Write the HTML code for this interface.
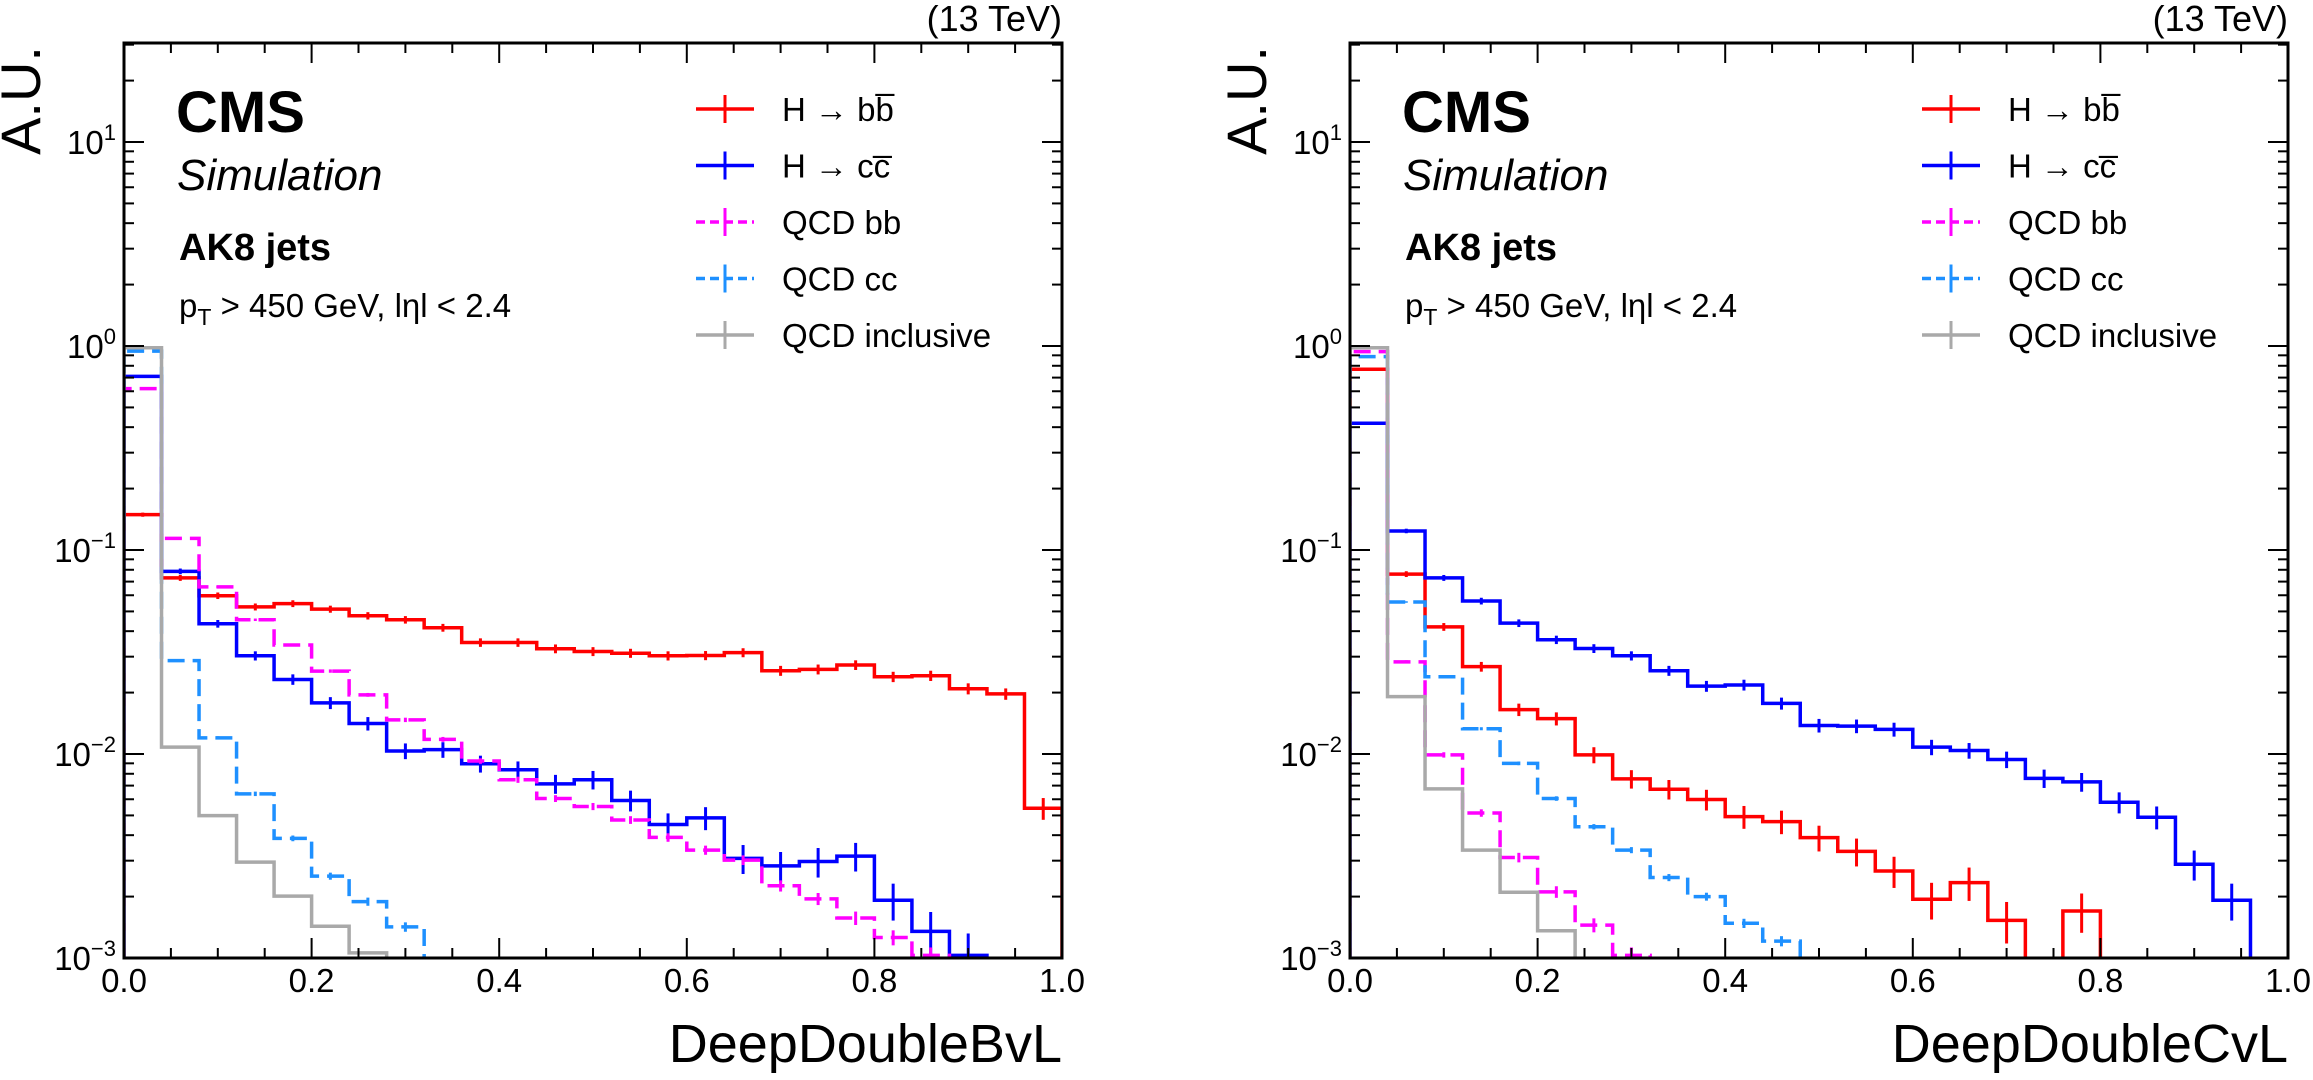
<!DOCTYPE html>
<html><head><meta charset="utf-8">
<style>
html,body{margin:0;padding:0;background:#fff;}
svg{display:block;font-family:"Liberation Sans",Arial,sans-serif;}
</style></head>
<body>
<svg id="fig" width="2313" height="1080" viewBox="0 0 2313 1080" xmlns="http://www.w3.org/2000/svg"></svg>
<script>
// ---------- data (25 bins of width 0.04 on [0,1]) ----------
const binEdgesStart = 0.0;
const binWidth = 0.04;
const xTickLabels = ["0.0","0.2","0.4","0.6","0.8","1.0"];
const xTickValues = [0,0.2,0.4,0.6,0.8,1.0];
const yTickExps = [-3,-2,-1,0,1];
const legendLabels = ["H \u2192 bb\u0305","H \u2192 cc\u0305","QCD bb","QCD cc","QCD inclusive"];

// Left panel: DeepDoubleBvL
const bvlHbb = [0.149,0.073,0.0597,0.0526,0.0546,0.0513,0.0476,0.0455,0.0416,0.0352,0.0352,0.0328,0.0318,0.0312,0.0303,0.0304,0.0314,0.0256,0.026,0.0273,0.0239,0.0242,0.0209,0.0197,0.00542];
const bvlHcc = [0.71,0.0786,0.0435,0.0303,0.0232,0.0178,0.0141,0.01035,0.0105,0.00896,0.00837,0.00714,0.00748,0.00592,0.00451,0.00486,0.00308,0.00283,0.00297,0.00316,0.00192,0.00135,0.00103,0,0];
const bvlQcdbb = [0.618,0.114,0.066,0.0455,0.0342,0.0255,0.0195,0.0147,0.0118,0.00924,0.00748,0.00605,0.00553,0.00475,0.0039,0.00338,0.00302,0.00226,0.00195,0.00157,0.00126,0.00103,0,0,0];
const bvlQcdcc = [0.944,0.0287,0.012,0.00638,0.00386,0.00252,0.00189,0.00142,0,0,0,0,0,0,0,0,0,0,0,0,0,0,0,0,0];
const bvlQcdincl = [0.98,0.0108,0.00499,0.00295,0.00201,0.00143,0.00106,0,0,0,0,0,0,0,0,0,0,0,0,0,0,0,0,0,0];

// Right panel: DeepDoubleCvL
const cvlHbb = [0.769,0.0762,0.042,0.0268,0.0165,0.0149,0.0099,0.00755,0.00672,0.00598,0.00493,0.00466,0.00389,0.00333,0.00267,0.00194,0.00234,0.00153,0,0.0017,0,0,0,0,0];
const cvlHcc = [0.418,0.124,0.073,0.0562,0.0438,0.0363,0.0329,0.0303,0.0256,0.0215,0.0218,0.0177,0.0138,0.0137,0.0132,0.0108,0.0104,0.0094,0.0076,0.0073,0.0058,0.0049,0.00288,0.00192,0];
const cvlQcdbb = [0.938,0.0283,0.0099,0.00514,0.00311,0.00211,0.00145,0.00103,0,0,0,0,0,0,0,0,0,0,0,0,0,0,0,0,0];
const cvlQcdcc = [0.887,0.0556,0.0239,0.0133,0.009,0.00605,0.0044,0.00338,0.00248,0.002,0.00148,0.00121,0,0,0,0,0,0,0,0,0,0,0,0,0];
const cvlQcdincl = [0.98,0.0191,0.00675,0.00338,0.0021,0.00136,0,0,0,0,0,0,0,0,0,0,0,0,0,0,0,0,0,0,0];

const NS = "http://www.w3.org/2000/svg";
const svg = document.getElementById("fig");
function mk(tag, attrs, parent){
  const e = document.createElementNS(NS, tag);
  for (const k in attrs) e.setAttribute(k, attrs[k]);
  (parent||svg).appendChild(e);
  return e;
}

const TOP = 43, BOT = 958, DEC = 204, Y10 = 142;
const styles = [
  {color:"#ff0000", dash:null, err:0.009},
  {color:"#0000ff", dash:null, err:0.009},
  {color:"#ff00ff", dash:"17 8", err:0.003},
  {color:"#1e90ff", dash:"17 8", err:0.002},
  {color:"#a9a9a9", dash:null, err:0}
];
const seriesNames = ["hbb","hcc","qcd-bb","qcd-cc","qcd-inclusive"];

function panel(idx, x0, x1, series, xtitle){
  const W = x1 - x0;
  const xs = v => x0 + v*W;
  const ys = v => v > 0 ? Y10 + (1 - Math.log10(v))*DEC : BOT + 40;
  const g = mk("g", {});
  
  

  const cid = "clip"+idx;
  const cp = mk("clipPath", {id:cid}, g);
  mk("rect", {x:x0, y:TOP, width:W, height:BOT-TOP}, cp);

  series.forEach((vals, si) => {
    const st = styles[si];
    let d = "M" + xs(binEdgesStart) + "," + (BOT+40);
    vals.forEach((v, i) => {
      const xa = xs(binEdgesStart + i*binWidth), xb = xs(binEdgesStart + (i+1)*binWidth);
      d += " L" + xa + "," + ys(v) + " L" + xb + "," + ys(v);
    });
    d += " L" + xs(1) + "," + (BOT+40);
    const p = mk("path", {d:d, fill:"none", stroke:st.color, "stroke-width":3.5, "clip-path":"url(#"+cid+")"}, g);
    if (st.dash) p.setAttribute("stroke-dasharray", st.dash);
    
    
    if (st.err > 0) {
      vals.forEach((v, i) => {
        if (v <= 0) return;
        const rel = st.err/Math.sqrt(v);
        const xc = xs(binEdgesStart + (i+0.5)*binWidth);
        const l = mk("line", {x1:xc, x2:xc, y1:ys(v*(1+rel)), y2:ys(Math.max(v*(1-rel),1e-6)), stroke:st.color, "stroke-width":3, "clip-path":"url(#"+cid+")"}, g);
        
        
      });
    }
  });

  const fr = mk("rect", {x:x0, y:TOP, width:W, height:BOT-TOP, fill:"none", stroke:"#000", "stroke-width":3}, g);
  
  

  for (let k=0;k<=20;k++){
    const v = k*0.05, x = xs(v), major = (k%4===0), L = major?20:10;
    mk("line",{x1:x,x2:x,y1:BOT,y2:BOT-L,stroke:"#000","stroke-width":2},g);
    mk("line",{x1:x,x2:x,y1:TOP,y2:TOP+L,stroke:"#000","stroke-width":2},g);
  }
  xTickValues.forEach((v,i)=>{
    const t = mk("text",{x:xs(v), y:992, "font-size":33, "text-anchor":"middle"}, g);
    t.textContent = xTickLabels[i];
    
    
  });
  for (let e=-3;e<=1;e++){
    for (let m=1;m<=9;m++){
      const v = m*Math.pow(10,e), y = ys(v);
      if (y < TOP-1 || y > BOT+1) continue;
      const L = m===1?20:10;
      mk("line",{x1:x0,x2:x0+L,y1:y,y2:y,stroke:"#000","stroke-width":2},g);
      mk("line",{x1:x1,x2:x1-L,y1:y,y2:y,stroke:"#000","stroke-width":2},g);
    }
  }
  yTickExps.forEach(e=>{
    const y = ys(Math.pow(10,e));
    const t = mk("text",{x:x0-8, y:y+12, "font-size":33, "text-anchor":"end"}, g);
    const a = mk("tspan",{},t); a.textContent = "10";
    const b = mk("tspan",{dy:-14,"font-size":22},t); b.textContent = (e<0?"\u2212":"")+Math.abs(e);
    
    
  });

  const xt = mk("text",{x:x1, y:1062, "font-size":54, "text-anchor":"end"}, g);
  xt.textContent = xtitle;
  
  
  const yt = mk("text",{x:0, y:0, "font-size":56, "text-anchor":"end", transform:"translate("+(x0-84)+",46) rotate(-90)"}, g);
  yt.textContent = "A.U.";
  
  
  const lum = mk("text",{x:x1, y:31, "font-size":36, "text-anchor":"end"}, g);
  lum.textContent = "(13 TeV)";
  
  

  const cms = mk("text",{x:x0+52, y:132, "font-size":58, "font-weight":"bold"}, g);
  cms.textContent = "CMS";
  
  
  const sim = mk("text",{x:x0+53, y:190, "font-size":44, "font-style":"italic"}, g);
  sim.textContent = "Simulation";
  
  
  const ak = mk("text",{x:x0+55, y:260, "font-size":38, "font-weight":"bold"}, g);
  ak.textContent = "AK8 jets";
  
  
  const cut = mk("text",{x:x0+55, y:317, "font-size":33}, g);
  const c1 = mk("tspan",{},cut); c1.textContent = "p";
  const c2 = mk("tspan",{dy:8,"font-size":23},cut); c2.textContent = "T";
  const c3 = mk("tspan",{dy:-8},cut); c3.textContent = " > 450 GeV, l\u03b7l < 2.4";
  
  

  const lg = mk("g",{},g);
  
  
  legendLabels.forEach((lab,i)=>{
    const y = 109 + i*56.5, st = styles[i], mx = x0+572;
    const e = mk("g",{},lg);
    
    
    const h = mk("line",{x1:mx,x2:mx+58,y1:y,y2:y,stroke:st.color,"stroke-width":3.5},e);
    if (st.dash) h.setAttribute("stroke-dasharray","9 5");
    mk("line",{x1:mx+29,x2:mx+29,y1:y-14,y2:y+14,stroke:st.color,"stroke-width":3},e);
    const t = mk("text",{x:mx+86, y:y+12, "font-size":33},e);
    t.textContent = lab;
  });
}

panel(0, 124, 1062, [bvlHbb,bvlHcc,bvlQcdbb,bvlQcdcc,bvlQcdincl], "DeepDoubleBvL");
panel(1, 1350, 2288, [cvlHbb,cvlHcc,cvlQcdbb,cvlQcdcc,cvlQcdincl], "DeepDoubleCvL");
</script>
</body></html>
